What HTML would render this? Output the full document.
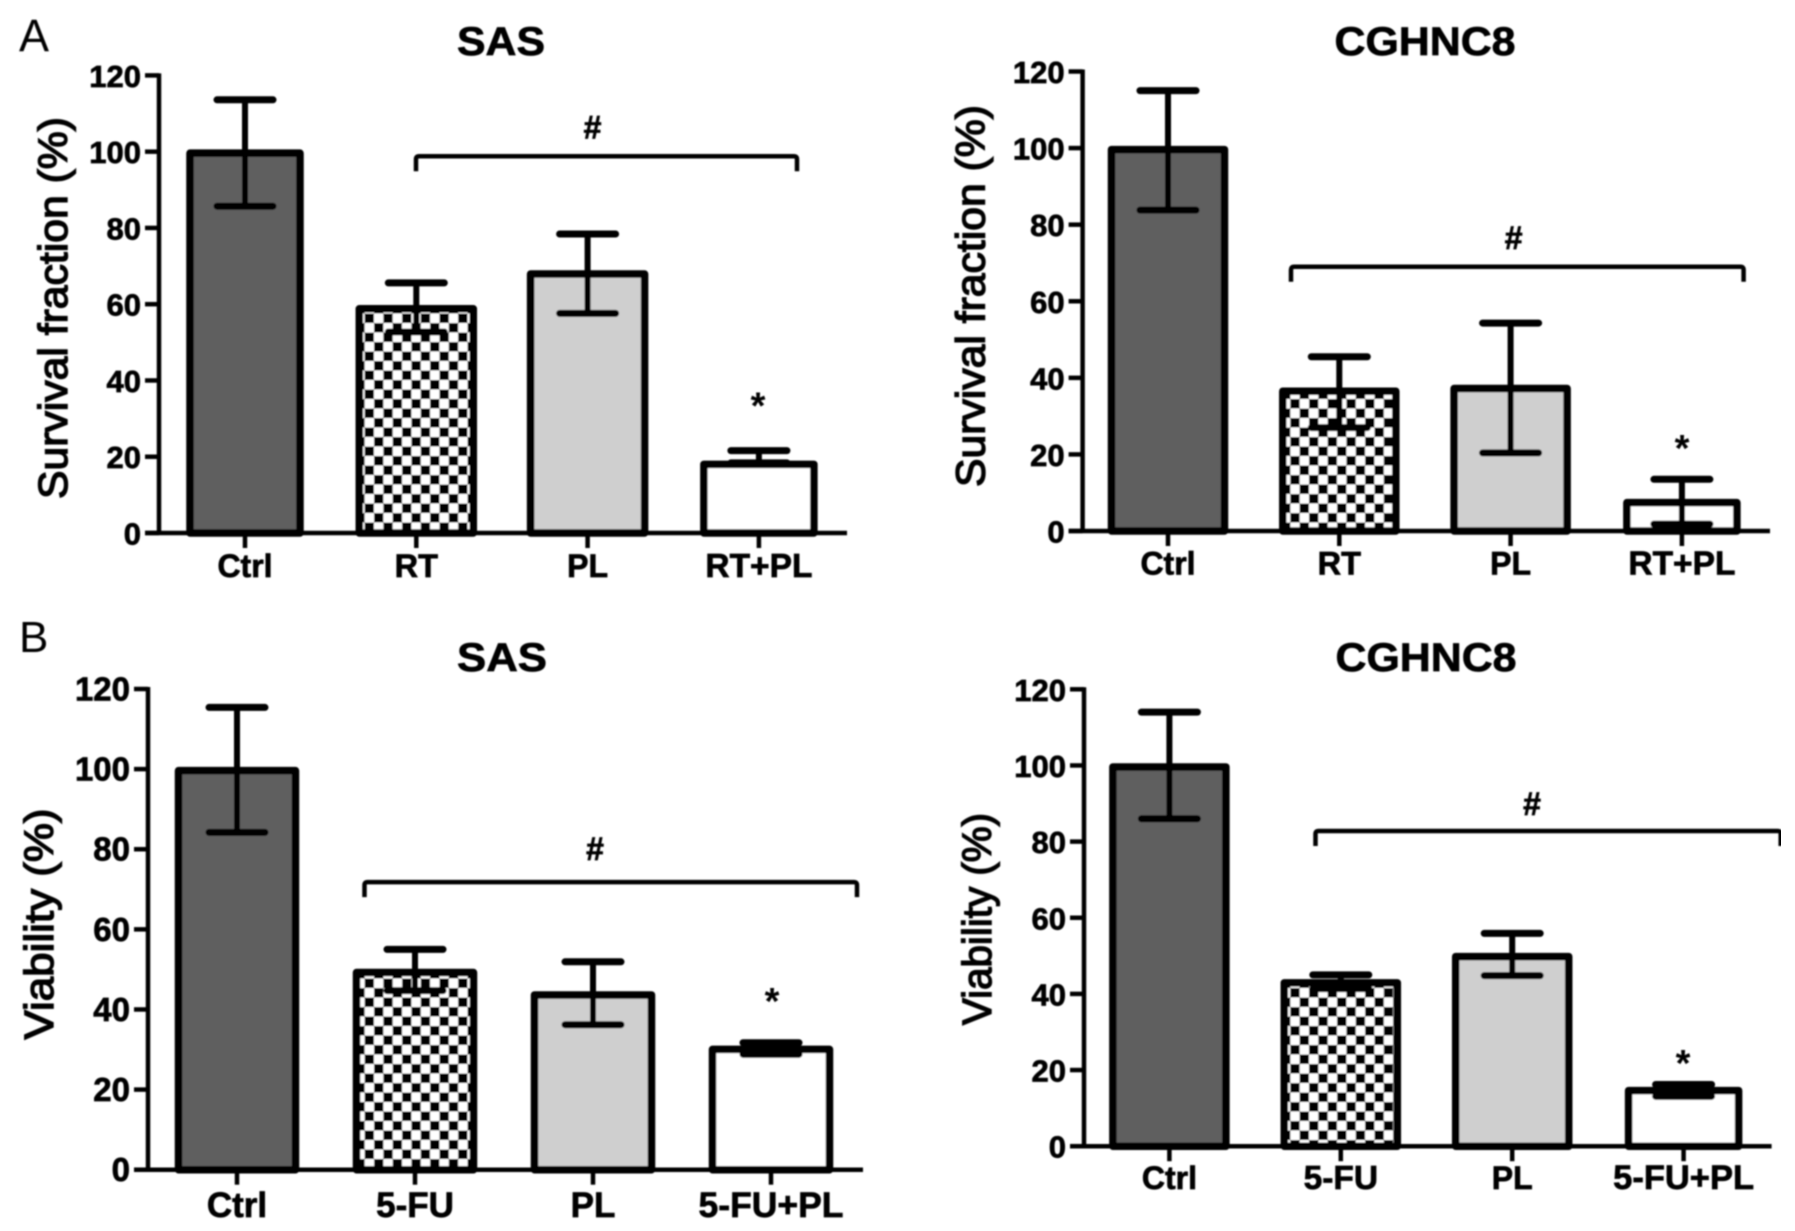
<!DOCTYPE html>
<html lang="en">
<head>
<meta charset="utf-8">
<title>Survival fraction and viability bar charts</title>
<style>
html,body{margin:0;padding:0;background:#fff;width:1795px;height:1231px;overflow:hidden}
svg{display:block}
text{font-family:"Liberation Sans",Arial,sans-serif;fill:#000}
</style>
</head>
<body>
<svg id="figure" xmlns="http://www.w3.org/2000/svg" width="1795" height="1231" viewBox="0 0 1795 1231">
  <defs>
    <filter id="soften" x="0" y="0" width="100%" height="100%"><feGaussianBlur stdDeviation="0.8"/></filter>
    <pattern id="checker" width="18.7" height="19" patternUnits="userSpaceOnUse">
      <rect width="18.7" height="19" fill="#fff"/>
      <rect width="9.35" height="9.5" fill="#000"/>
      <rect x="9.35" y="9.5" width="9.35" height="9.5" fill="#000"/>
    </pattern>
  </defs>
  <g id="root" filter="url(#soften)">
    <text x="19" y="51" font-size="45">A</text>
    <text x="19" y="652" font-size="44">B</text>
  </g>
</svg>
<script>
// ---- chart data ----
const yTicks = [0, 20, 40, 60, 80, 100, 120];

const sasRtCategories = ['Ctrl', 'RT', 'PL', 'RT+PL'];
const sasRtMeans = [100, 59.2, 68.3, 18.4];
const sasRtUpper = [113.6, 65.6, 78.4, 21.6];
const sasRtLower = [85.7, 52.7, 57.6, 18.4];

const cghRtCategories = ['Ctrl', 'RT', 'PL', 'RT+PL'];
const cghRtMeans = [100, 36.9, 37.6, 7.8];
const cghRtUpper = [115, 45.5, 54.3, 13.5];
const cghRtLower = [83.8, 27, 20.4, 1.8];

const sasFuCategories = ['Ctrl', '5-FU', 'PL', '5-FU+PL'];
const sasFuMeans = [100, 49.6, 44, 30.4];
const sasFuUpper = [115.4, 55, 51.9, 31.7];
const sasFuLower = [84.2, 44.7, 36.2, 28.8];

const cghFuCategories = ['Ctrl', '5-FU', 'PL', '5-FU+PL'];
const cghFuMeans = [100, 43.3, 50.2, 15];
const cghFuUpper = [114, 45, 55.9, 16.2];
const cghFuLower = [86, 41.4, 44.8, 13.1];

// ---- panel layout (pixels) ----
const barFills = ['#5f5f5f', 'url(#checker)', '#cfcfcf', '#ffffff'];
const panels = [
  {slug:'a-sas', title:'SAS', titleX:501, titleY:55, titleW:88, yTitle:'Survival fraction (%)', yTitleX:67, yTitleY:308, yTitleW:382,
   axisX:159, y0:533, y120:75.4, xEnd:847, first:245, step:171.3, barWs:[110,114,114,110], tickFont:31, catFonts:[32,32.5,32,33.5], catDy:44,
   cats:sasRtCategories, means:sasRtMeans, upper:sasRtUpper, lower:sasRtLower,
   bracket:[416,797,98.8], hash:[592.5,127.7], star:[758,397.6]},
  {slug:'a-cghnc8', title:'CGHNC8', titleX:1425, titleY:55, titleW:181, yTitle:'Survival fraction (%)', yTitleX:984.5, yTitleY:296, yTitleW:382,
   axisX:1082.6, y0:531, y120:71.5, xEnd:1770, first:1168, step:171.3, barWs:[113,113,113,110], tickFont:31, catFonts:[32,32.5,32,33.5], catDy:43.5,
   cats:cghRtCategories, means:cghRtMeans, upper:cghRtUpper, lower:cghRtLower,
   bracket:[1291,1743.6,69],  hash:[1513.6,238], star:[1682,440]},
  {slug:'b-sas', title:'SAS', titleX:502, titleY:671, titleW:90, yTitle:'Viability (%)', yTitleX:53, yTitleY:924, yTitleW:231,
   axisX:148, y0:1169.7, y120:689, xEnd:863, first:237, step:178, barWs:[117,117,117,117], tickFont:33, catFonts:[35,35,35,35.5], catDy:47.5,
   cats:sasFuCategories, means:sasFuMeans, upper:sasFuUpper, lower:sasFuLower,
   bracket:[364.5,857,71.8], hash:[595,849], star:[772,993]},
  {slug:'b-cghnc8', title:'CGHNC8', titleX:1426, titleY:671, titleW:181, yTitle:'Viability (%)', yTitleX:991, yTitleY:919, yTitleW:212,
   axisX:1084, y0:1146.2, y120:689.3, xEnd:1771.6, first:1169.4, step:171.4, barWs:[113,113,113,110], tickFont:31, catFonts:[32,33.5,32,34.5], catDy:43,
   cats:cghFuCategories, means:cghFuMeans, upper:cghFuUpper, lower:cghFuLower,
   bracket:[1315.5,1780.7,82.8], hash:[1532,804], star:[1683,1055]}
];

const NS = 'http://www.w3.org/2000/svg';
const root = document.getElementById('root');

function mk(parent, tag, attrs, content) {
  const el = document.createElementNS(NS, tag);
  for (const k in attrs) el.setAttribute(k, attrs[k]);
  if (content !== undefined) el.textContent = content;
  parent.appendChild(el);
  return el;
}

function drawPanel(p) {
  const yScale = v => p.y0 - (p.y0 - p.y120) * v / 120;
  const xScale = i => p.first + p.step * i;
  const boldStroke = {stroke:'#000', 'stroke-width':0.7};

  const g = mk(root, 'g', {});
  
  

  const title = mk(g, 'text', {x:p.titleX, y:p.titleY, 'font-size':40, 'font-weight':'bold', 'text-anchor':'middle', textLength:p.titleW, lengthAdjust:'spacingAndGlyphs', ...boldStroke}, p.title);
  
  

  const yTitle = mk(g, 'text', {x:0, y:0, transform:'translate(' + p.yTitleX + ',' + p.yTitleY + ') rotate(-90)', 'font-size':41, 'text-anchor':'middle', textLength:p.yTitleW, lengthAdjust:'spacingAndGlyphs', stroke:'#000', 'stroke-width':1.4, fill:'#111'}, p.yTitle);
  
  

  // bars
  p.means.forEach((m, i) => {
    const cx = xScale(i);
    const w = p.barWs[i];
    const top = yScale(m) + 1.5;
    const bar = mk(g, 'rect', {x:cx - w / 2, y:top, width:w, height:yScale(0) - top, fill:barFills[i], stroke:'#000', 'stroke-width':7.5, 'stroke-linejoin':'round'});
    
    
  });

  // error bars
  p.means.forEach((m, i) => {
    const cx = xScale(i);
    const eg = mk(g, 'g', {stroke:'#000', 'stroke-width':7, 'stroke-linecap':'round', fill:'none'});
    
    
    mk(eg, 'line', {x1:cx, x2:cx, y1:yScale(p.upper[i]), y2:yScale(p.lower[i]), 'stroke-linecap':'butt', 'stroke-width':6});
    mk(eg, 'line', {x1:cx - 28, x2:cx + 28, y1:yScale(p.upper[i]), y2:yScale(p.upper[i])});
    mk(eg, 'line', {x1:cx - 28, x2:cx + 28, y1:yScale(p.lower[i]), y2:yScale(p.lower[i])});
  });

  // y axis
  const yAxis = mk(g, 'g', {stroke:'#000', 'stroke-width':4.5, fill:'none'});
  
  
  mk(yAxis, 'line', {x1:p.axisX, x2:p.axisX, y1:yScale(120) - 2, y2:yScale(0) + 2});
  yTicks.forEach(t => {
    mk(yAxis, 'line', {x1:p.axisX - 14, x2:p.axisX, y1:yScale(t), y2:yScale(t)});
    const lab = mk(g, 'text', {x:p.axisX - 18, y:yScale(t) + 11.5, 'font-size':p.tickFont, 'font-weight':'bold', 'text-anchor':'end', ...boldStroke}, String(t));
    
    
  });

  // x axis
  const xAxis = mk(g, 'g', {stroke:'#000', 'stroke-width':4.5, fill:'none'});
  
  
  mk(xAxis, 'line', {x1:p.axisX - 14, x2:p.xEnd, y1:yScale(0), y2:yScale(0)});
  p.cats.forEach((c, i) => {
    mk(xAxis, 'line', {x1:xScale(i), x2:xScale(i), y1:yScale(0), y2:yScale(0) + 15});
    const lab = mk(g, 'text', {x:xScale(i), y:yScale(0) + p.catDy, 'font-size':p.catFonts[i], 'font-weight':'bold', 'text-anchor':'middle', ...boldStroke}, c);
    
    
  });

  // significance annotations
  const by = yScale(p.bracket[2]);
  const bracket = mk(g, 'path', {d:'M' + p.bracket[0] + ' ' + (by + 15) + 'V' + (by + 3) + 'Q' + p.bracket[0] + ' ' + by + ' ' + (p.bracket[0] + 3) + ' ' + by + 'H' + (p.bracket[1] - 3) + 'Q' + p.bracket[1] + ' ' + by + ' ' + p.bracket[1] + ' ' + (by + 3) + 'V' + (by + 15), fill:'none', stroke:'#000', 'stroke-width':4.5});
  
  

  const hash = mk(g, 'text', {x:p.hash[0], y:p.hash[1] + 11, 'font-size':32, 'font-weight':'bold', 'text-anchor':'middle', ...boldStroke}, '#');
  
  

  const star = mk(g, 'text', {x:p.star[0], y:p.star[1] + 21, 'font-size':38, 'font-weight':'bold', 'text-anchor':'middle'}, '*');
  
  
}

panels.forEach(drawPanel);
</script>
</body>
</html>
